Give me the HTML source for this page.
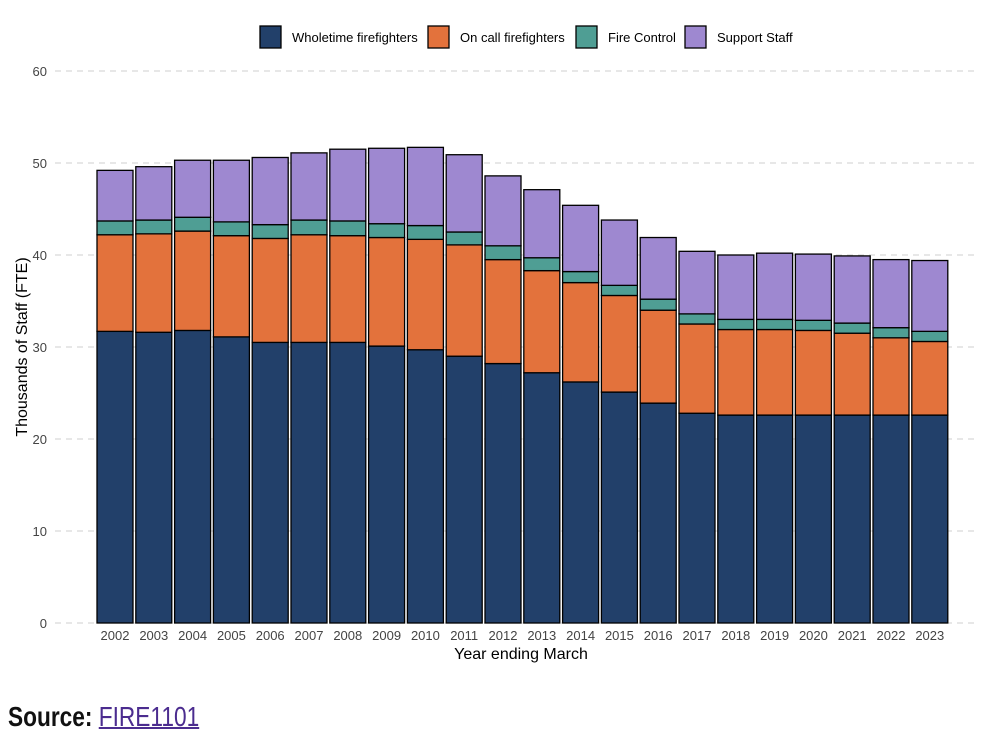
<!DOCTYPE html>
<html><head><meta charset="utf-8"><style>
body{margin:0;background:#fff;width:1000px;height:747px;overflow:hidden;font-family:"Liberation Sans",sans-serif}
#src{position:absolute;left:8px;top:701px;font-size:28px;color:#111;transform:scaleX(0.81);transform-origin:0 0;white-space:nowrap}
#src b{font-weight:bold}
#src a{color:#4b2c8f;text-decoration:underline;text-decoration-thickness:2px;font-weight:normal}
</style></head><body>
<svg id="chart" width="1000" height="700" style="position:absolute;left:0;top:0" font-family="Liberation Sans, sans-serif"></svg>
<div id="src"><b>Source:</b> <a>FIRE1101</a></div>
<script>
const years=["2002","2003","2004","2005","2006","2007","2008","2009","2010","2011","2012","2013","2014","2015","2016","2017","2018","2019","2020","2021","2022","2023"];
const wholetime=[31.7,31.6,31.8,31.1,30.5,30.5,30.5,30.1,29.7,29.0,28.2,27.2,26.2,25.1,23.9,22.8,22.6,22.6,22.6,22.6,22.6,22.6];
const oncall=[10.5,10.7,10.8,11.0,11.3,11.7,11.6,11.8,12.0,12.1,11.3,11.1,10.8,10.5,10.1,9.7,9.3,9.3,9.2,8.9,8.4,8.0];
const fireControl=[1.5,1.5,1.5,1.5,1.5,1.6,1.6,1.5,1.5,1.4,1.5,1.4,1.2,1.1,1.2,1.1,1.1,1.1,1.1,1.1,1.1,1.1];
const support=[5.5,5.8,6.2,6.7,7.3,7.3,7.8,8.2,8.5,8.4,7.6,7.4,7.2,7.1,6.7,6.8,7.0,7.2,7.2,7.3,7.4,7.7];
const yTicks=[0,10,20,30,40,50,60];
const seriesNames=["Wholetime firefighters","On call firefighters","Fire Control","Support Staff"];
const colors=["#22406a","#e3723c","#4f9e94","#9e88d0"];
const svg=document.getElementById('chart');const NS='http://www.w3.org/2000/svg';
function mk(t,a,p){const e=document.createElementNS(NS,t);for(const k in a)e.setAttribute(k,a[k]);(p||svg).appendChild(e);return e;}
const y=v=>623-v*9.2;const x0=115,step=38.8,bw=36;const x=i=>x0+i*step;
yTicks.forEach(t=>{
 const l=mk('line',{x1:55,x2:975,y1:y(t),y2:y(t),stroke:'#cfcfcf','stroke-dasharray':'6,5'});
 
 const tx=mk('text',{x:47,y:y(t)+5,'text-anchor':'end','font-size':13,fill:'#444'});tx.textContent=t;
 
});
const series=[wholetime,oncall,fireControl,support];
years.forEach((yr,i)=>{
 let base=0;
 series.forEach((s,k)=>{
  const r=mk('rect',{x:x(i)-bw/2,y:y(base+s[i]),width:bw,height:s[i]*9.2,fill:colors[k],stroke:'#000','stroke-width':1.3});
  
  base+=s[i];
 });
 const tx=mk('text',{x:x(i),y:640,'text-anchor':'middle','font-size':13,fill:'#444'});tx.textContent=yr;
 
});
const xt=mk('text',{x:521,y:659,'text-anchor':'middle','font-size':16,fill:'#000'});xt.textContent='Year ending March';

const yt=mk('text',{x:0,y:0,'text-anchor':'middle','font-size':16,fill:'#000',transform:'translate(27,347) rotate(-90)'});yt.textContent='Thousands of Staff (FTE)';

const lx=[260,428,576,685];
seriesNames.forEach((n,k)=>{
 const g=mk('g',{});
 mk('rect',{x:lx[k],y:26,width:21,height:22,fill:colors[k],stroke:'#000','stroke-width':1.3},g);
 const t=mk('text',{x:lx[k]+32,y:42,'font-size':13,fill:'#000'},g);t.textContent=n;
});
</script>
</body></html>
